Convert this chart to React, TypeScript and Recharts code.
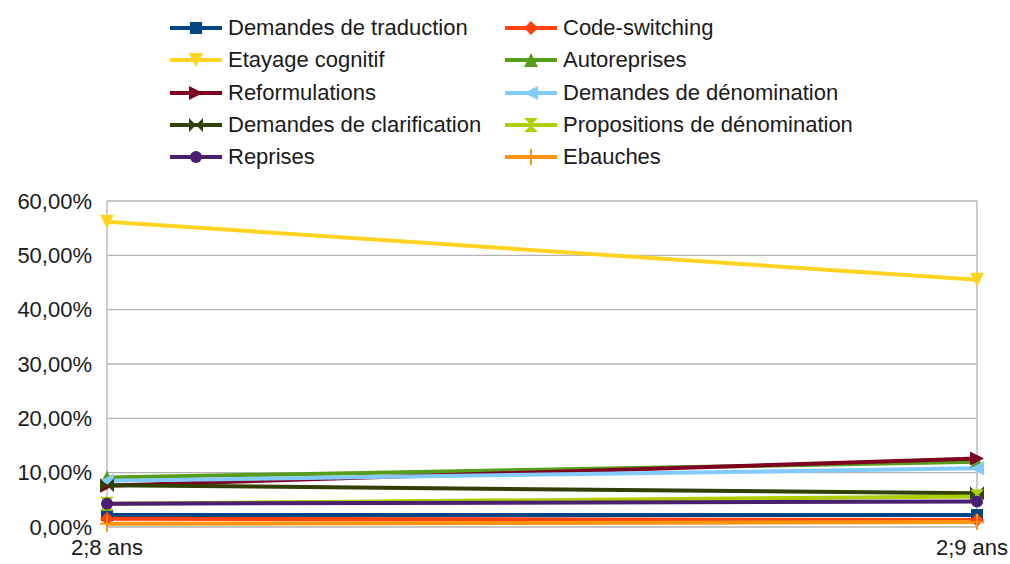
import React from "react";
import {
  LineChart,
  Line,
  XAxis,
  YAxis,
  CartesianGrid,
} from "recharts";

// Valeurs (en %)
const categories = ["2;8 ans", "2;9 ans"];
const traduction = [2.2, 2.2];
const codeSwitching = [1.5, 1.3];
const etayage = [56.2, 45.5];
const autoreprises = [9.1, 12.0];
const reformulations = [7.6, 12.6];
const demandesDenomination = [8.5, 10.8];
const clarification = [7.7, 6.2];
const propositions = [4.3, 5.6];
const reprises = [4.3, 4.7];
const ebauches = [0.6, 0.9];

const yTicks = [0, 10, 20, 30, 40, 50, 60];

type Shape =
  | "square"
  | "diamond"
  | "down"
  | "up"
  | "right"
  | "left"
  | "bowtie"
  | "hourglass"
  | "circle"
  | "plus";

type Serie = {
  key: string;
  name: string;
  color: string;
  shape: Shape;
  values: number[];
};

const SERIES: Serie[] = [
  { key: "traduction", name: "Demandes de traduction", color: "#004586", shape: "square", values: traduction },
  { key: "codeSwitching", name: "Code-switching", color: "#ff420e", shape: "diamond", values: codeSwitching },
  { key: "etayage", name: "Etayage cognitif", color: "#ffd320", shape: "down", values: etayage },
  { key: "autoreprises", name: "Autoreprises", color: "#579d1c", shape: "up", values: autoreprises },
  { key: "reformulations", name: "Reformulations", color: "#7e0021", shape: "right", values: reformulations },
  { key: "demandesDenomination", name: "Demandes de dénomination", color: "#83caff", shape: "left", values: demandesDenomination },
  { key: "clarification", name: "Demandes de clarification", color: "#314004", shape: "bowtie", values: clarification },
  { key: "propositions", name: "Propositions de dénomination", color: "#aecf00", shape: "hourglass", values: propositions },
  { key: "reprises", name: "Reprises", color: "#4b1f6f", shape: "circle", values: reprises },
  { key: "ebauches", name: "Ebauches", color: "#ff950e", shape: "plus", values: ebauches },
];

const data = categories.map((cat, i) => {
  const row: Record<string, string | number> = { cat };
  SERIES.forEach((s) => {
    row[s.key] = s.values[i];
  });
  return row;
});

const FONT = "'Liberation Sans', Arial, sans-serif";

const Marker = ({
  shape,
  cx,
  cy,
  color,
  r = 7,
}: {
  shape: Shape;
  cx: number;
  cy: number;
  color: string;
  r?: number;
}) => {
  switch (shape) {
    case "square":
      return <rect x={cx - r + 1} y={cy - r + 1} width={2 * r - 2} height={2 * r - 2} fill={color} />;
    case "diamond":
      return <polygon points={`${cx},${cy - r} ${cx + r},${cy} ${cx},${cy + r} ${cx - r},${cy}`} fill={color} />;
    case "down":
      return <polygon points={`${cx - r},${cy - r} ${cx + r},${cy - r} ${cx},${cy + r}`} fill={color} />;
    case "up":
      return <polygon points={`${cx - r},${cy + r} ${cx + r},${cy + r} ${cx},${cy - r}`} fill={color} />;
    case "right":
      return <polygon points={`${cx - r},${cy - r} ${cx + r},${cy} ${cx - r},${cy + r}`} fill={color} />;
    case "left":
      return <polygon points={`${cx + r},${cy - r} ${cx - r},${cy} ${cx + r},${cy + r}`} fill={color} />;
    case "bowtie":
      return (
        <path
          d={`M${cx - r},${cy - r} L${cx + r},${cy + r} L${cx + r},${cy - r} L${cx - r},${cy + r} Z`}
          fill={color}
        />
      );
    case "hourglass":
      return (
        <path
          d={`M${cx - r},${cy - r} L${cx + r},${cy - r} L${cx - r},${cy + r} L${cx + r},${cy + r} Z`}
          fill={color}
        />
      );
    case "circle":
      return <circle cx={cx} cy={cy} r={r - 1} fill={color} />;
    case "plus":
    default:
      return (
        <g stroke={color} strokeWidth={2}>
          <line x1={cx} y1={cy - r - 1} x2={cx} y2={cy + r + 1} />
          <line x1={cx - r} y1={cy} x2={cx + r} y2={cy} />
        </g>
      );
  }
};

const fmt = (v: number) => `${v.toFixed(2).replace(".", ",")}%`;

// Étiquettes de l'axe X : la dernière est décalée pour ne pas sortir du cadre
const XTick = (props: any) => {
  const { x, y, payload, index } = props;
  const dx = index === categories.length - 1 ? -5 : 0;
  return (
    <text
      x={x + dx}
      y={y + 4}
      dy="0.71em"
      textAnchor="middle"
      fontSize={22}
      fill="#1a1a1a"
      fontFamily={FONT}
    >
      {payload.value}
    </text>
  );
};

// Légende en deux colonnes, cinq lignes (posée par-dessus le graphique)
const LegendBox = () => (
  <div style={{ position: "absolute", left: 0, top: 0, width: 1010, height: 180, fontFamily: FONT }}>
    {SERIES.map((s, i) => {
      const col = i % 2;
      const row = Math.floor(i / 2);
      const left = col === 0 ? 168 : 503;
      const top = 28 + row * 32.3;
      return (
        <div
          key={s.key}
          style={{
            position: "absolute",
            left,
            top: top - 13,
            height: 26,
            display: "flex",
            alignItems: "center",
            whiteSpace: "nowrap",
          }}
        >
          <svg width={56} height={26}>
            <line x1={2} y1={13} x2={54} y2={13} stroke={s.color} strokeWidth={4} />
            <Marker shape={s.shape} cx={28} cy={13} color={s.color} />
          </svg>
          <span style={{ marginLeft: 4, fontSize: 22, color: "#1a1a1a" }}>{s.name}</span>
        </div>
      );
    })}
  </div>
);

export default function App() {
  return (
    <div style={{ position: "absolute", left: 0, top: 0, width: 1010, height: 564, background: "#fff" }}>
      <LineChart
        width={1010}
        height={564}
        data={data}
        margin={{ top: 201, right: 33, left: 12, bottom: 7 }}
      >
        <CartesianGrid stroke="#b3b3b3" strokeWidth={1.3} />
        <XAxis
          dataKey="cat"
          height={30}
          axisLine={false}
          tickLine={false}
          interval={0}
          tick={<XTick />}
        />
        <YAxis
          width={95}
          domain={[0, 60]}
          ticks={yTicks}
          interval={0}
          tickFormatter={fmt}
          axisLine={false}
          tickLine={false}
          tickMargin={9}
          tick={{ fontSize: 22, fill: "#1a1a1a", fontFamily: FONT }}
        />
        {SERIES.map((s) => (
          <Line
            key={s.key}
            dataKey={s.key}
            name={s.name}
            stroke={s.color}
            strokeWidth={4}
            isAnimationActive={false}
            dot={(p: any) => (
              <Marker key={`${s.key}-${p.index}`} shape={s.shape} cx={p.cx} cy={p.cy} color={s.color} />
            )}
            activeDot={false}
          />
        ))}
      </LineChart>
      <LegendBox />
    </div>
  );
}
